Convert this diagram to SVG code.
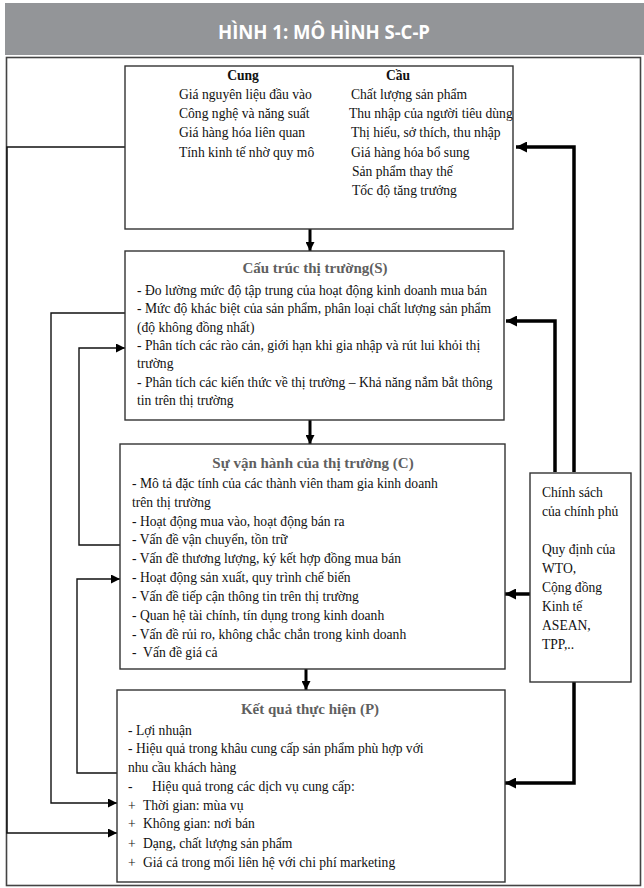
<svg xmlns="http://www.w3.org/2000/svg" width="644" height="888" viewBox="0 0 644 888">
<style>
text{font-family:"Liberation Serif","Times New Roman",serif;font-size:13.6px;fill:#111;white-space:pre}
.hd{font-family:"Open Sans","Liberation Sans",sans-serif;font-weight:700;font-size:20px;fill:#fff}
.ttl{font-weight:700;font-size:15px;fill:#5f5f5f;text-anchor:middle}
.col{font-weight:700;text-anchor:middle}
.box{fill:#fff;stroke:#333;stroke-width:1.4}
.thin{fill:none;stroke:#111;stroke-width:1.4}
.thick{fill:none;stroke:#000;stroke-width:3.5}
.mid{fill:none;stroke:#000;stroke-width:3}
</style>
<defs>
<marker id="ah" viewBox="0 0 10 10" refX="10" refY="5" markerWidth="11" markerHeight="9" markerUnits="userSpaceOnUse" orient="auto"><path d="M0,0 L10,5 L0,10 z" fill="#000"/></marker>
<marker id="ahb" viewBox="0 0 10 10" refX="10" refY="5" markerWidth="12" markerHeight="11" markerUnits="userSpaceOnUse" orient="auto"><path d="M0,0 L10,5 L0,10 z" fill="#000"/></marker>
</defs>
<rect x="0" y="0" width="644" height="888" fill="#fff"/>
<g id="header">
<rect x="5" y="3" width="639" height="52" fill="#939598"/>
<text class="hd" x="218" y="39" textLength="212" lengthAdjust="spacingAndGlyphs">HÌNH 1: MÔ HÌNH S-C-P</text>
</g>
<rect id="frame" x="6.5" y="57.5" width="634" height="828" fill="none" stroke="#444" stroke-width="1.6"/>

<g id="connectors">
<path class="thin" d="M125,147 H7 V833 H117" marker-end="url(#ah)"/>
<path class="thin" d="M125,313 H51 V803 H117" marker-end="url(#ah)"/>
<path class="thin" d="M120,545 H79 V348 H125" marker-end="url(#ah)"/>
<path class="thin" d="M117,773 H77 V579 H120" marker-end="url(#ah)"/>
<path class="thick" d="M574,472 V147 H516" marker-end="url(#ahb)"/>
<path class="thick" d="M555,472 V321 H506" marker-end="url(#ahb)"/>
<path class="thick" d="M530,594 H505" marker-end="url(#ahb)"/>
<path class="thick" d="M574,682 V783 H505" marker-end="url(#ahb)"/>
<path class="mid" d="M310,229 V251" marker-end="url(#ah)"/>
<path class="mid" d="M310,420 V444" marker-end="url(#ah)"/>
<path class="mid" d="M306,669 V690" marker-end="url(#ah)"/>
</g>

<g id="factors">
<rect class="box" x="125" y="66" width="388" height="163"/>
<text class="col" x="243" y="80">Cung</text>
<text class="col" x="398" y="80">Cầu</text>
<text x="179" y="99">Giá nguyên liệu đầu vào</text>
<text x="179" y="118">Công nghệ và năng suất</text>
<text x="179" y="137">Giá hàng hóa liên quan</text>
<text x="179" y="157">Tính kinh tế nhờ quy mô</text>
<text x="351" y="99">Chất lượng sản phẩm</text>
<text x="349" y="118">Thu nhập của người tiêu dùng</text>
<text x="351" y="137">Thị hiếu, sở thích, thu nhập</text>
<text x="351" y="157">Giá hàng hóa bổ sung</text>
<text x="352" y="176">Sản phẩm thay thế</text>
<text x="352" y="195">Tốc độ tăng trưởng</text>
</g>

<g id="structure">
<rect class="box" x="125" y="251" width="379" height="169"/>
<text class="ttl" x="315" y="273">Cấu trúc thị trường(S)</text>
<text x="137" y="295">- Đo lường mức độ tập trung của hoạt động kinh doanh mua bán</text>
<text x="137" y="313">- Mức độ khác biệt của sản phẩm, phân loại chất lượng sản phẩm</text>
<text x="137" y="332">(độ không đồng nhất)</text>
<text x="137" y="350">- Phân tích các rào cản, giới hạn khi gia nhập và rút lui khỏi thị</text>
<text x="137" y="368">trường</text>
<text x="137" y="387">- Phân tích các kiến thức về thị trường – Khả năng nắm bắt thông</text>
<text x="137" y="405">tin trên thị trường</text>
</g>

<g id="conduct">
<rect class="box" x="120" y="444" width="385" height="225"/>
<text class="ttl" x="313" y="468">Sự vận hành của thị trường (C)</text>
<text x="132" y="488">- Mô tả đặc tính của các thành viên tham gia kinh doanh</text>
<text x="132" y="507">trên thị trường</text>
<text x="132" y="526">- Hoạt động mua vào, hoạt động bán ra</text>
<text x="132" y="544">- Vấn đề vận chuyển, tồn trữ</text>
<text x="132" y="563">- Vấn đề thương lượng, ký kết hợp đồng mua bán</text>
<text x="132" y="582">- Hoạt động sản xuất, quy trình chế biến</text>
<text x="132" y="601">- Vấn đề tiếp cận thông tin trên thị trường</text>
<text x="132" y="620">- Quan hệ tài chính, tín dụng trong kinh doanh</text>
<text x="132" y="639">- Vấn đề rủi ro, không chắc chắn trong kinh doanh</text>
<text x="132" y="657">-  Vấn đề giá cả</text>
</g>

<g id="performance">
<rect class="box" x="117" y="690" width="388" height="192"/>
<text class="ttl" x="310" y="714">Kết quả thực hiện (P)</text>
<text x="128" y="735">- Lợi nhuận</text>
<text x="128" y="753">- Hiệu quả trong khâu cung cấp sản phẩm phù hợp với</text>
<text x="128" y="772">nhu cầu khách hàng</text>
<text x="128" y="791">-</text><text x="152" y="791">Hiệu quả trong các dịch vụ cung cấp:</text>
<text x="128" y="810">+</text><text x="143" y="810">Thời gian: mùa vụ</text>
<text x="128" y="828">+</text><text x="143" y="828">Không gian: nơi bán</text>
<text x="128" y="848">+</text><text x="143" y="848">Dạng, chất lượng sản phẩm</text>
<text x="128" y="867">+</text><text x="143" y="867">Giá cả trong mối liên hệ với chi phí marketing</text>
</g>

<g id="government">
<rect class="box" x="530" y="473" width="101" height="209"/>
<text x="542" y="497">Chính sách</text>
<text x="542" y="516">của chính phủ</text>
<text x="542" y="554">Quy định của</text>
<text x="542" y="573">WTO,</text>
<text x="542" y="592">Cộng đồng</text>
<text x="542" y="611">Kinh tế</text>
<text x="542" y="630">ASEAN,</text>
<text x="542" y="649">TPP,..</text>
</g>
</svg>
